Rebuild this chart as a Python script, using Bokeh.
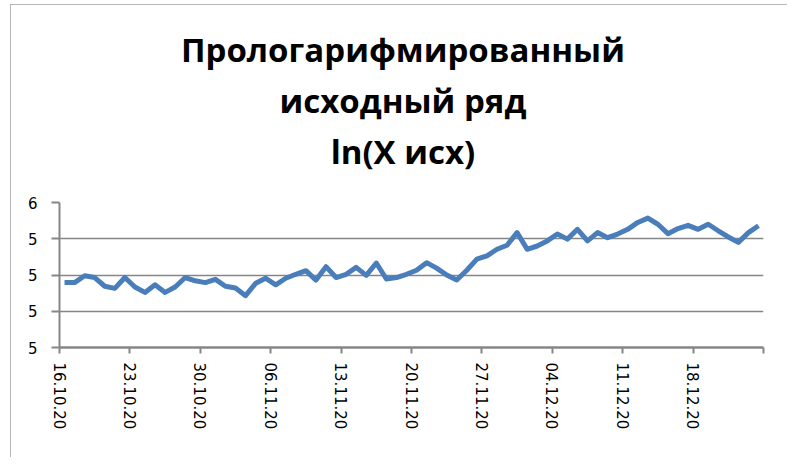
import pandas as pd
from bokeh.plotting import figure
from bokeh.models import FixedTicker, NumeralTickFormatter, Range1d, Title
from bokeh.embed import file_html
from bokeh.resources import INLINE

# ---- data ----
start_date = "2020-10-16"
end_date = "2020-12-24"
values = [5.279, 5.279, 5.298, 5.293, 5.269, 5.263, 5.293, 5.267, 5.252, 5.273,
          5.252, 5.267, 5.293, 5.284, 5.279, 5.288, 5.269, 5.264, 5.243, 5.277,
          5.291, 5.273, 5.291, 5.302, 5.312, 5.286, 5.323, 5.293, 5.302, 5.321,
          5.299, 5.333, 5.289, 5.293, 5.302, 5.313, 5.334, 5.319, 5.300, 5.286,
          5.313, 5.344, 5.353, 5.371, 5.382, 5.417, 5.371, 5.380, 5.394, 5.413,
          5.399, 5.426, 5.394, 5.417, 5.403, 5.413, 5.426, 5.445, 5.457, 5.440,
          5.414, 5.428, 5.437, 5.426, 5.440, 5.422, 5.405, 5.390, 5.417, 5.436]
tick_labels = ["16.10.20", "23.10.20", "30.10.20", "06.11.20", "13.11.20",
               "20.11.20", "27.11.20", "04.12.20", "11.12.20", "18.12.20", ""]
y_ticks = [5.1, 5.2, 5.3, 5.4, 5.5]
title_lines = ["Прологарифмированный", "исходный ряд", "ln(X исх)"]

dates = pd.date_range(start_date, end_date, freq="D")
t0 = dates[0]
x = [(d - t0).days for d in dates]
n_days = len(dates)

GRAY = "#868686"
BLUE = "#4a7ebb"

p = figure(width=777, height=453, output_backend="svg", toolbar_location=None,
           x_range=Range1d(-0.5, n_days - 0.5), y_range=Range1d(y_ticks[0], y_ticks[-1]),
           min_border_left=49, min_border_right=24, min_border_bottom=110,
           min_border_top=198, background_fill_color="white", border_fill_color="white",
           outline_line_color=None, margin=(4, 0, 0, 10))
p.styles = {"outline": "2px solid #a0a0a0", "outline-offset": "-2px"}
p.title.visible = False

# spacer between the plot and the title block (first added sits closest to the plot)
p.add_layout(Title(text="\u00a0", text_font_size="1px", standoff=24), "above")
for line in reversed(title_lines):
    p.add_layout(Title(text=line + "\u00a0\u00a0", align="center", text_font="Open Sans",
                       text_font_style="bold", text_font_size="33px", text_color="black",
                       standoff=4), "above")

p.line(x, values, line_color=BLUE, line_width=5, line_join="round")

# y axis
p.yaxis.ticker = FixedTicker(ticks=y_ticks)
p.yaxis.formatter = NumeralTickFormatter(format="0")
p.yaxis.axis_line_color = GRAY
p.yaxis.axis_line_width = 2
p.yaxis.major_tick_line_color = GRAY
p.yaxis.major_tick_line_width = 2
p.yaxis.major_tick_out = 8
p.yaxis.major_tick_in = 0
p.yaxis.minor_tick_line_color = None
p.yaxis.major_label_standoff = 14
p.yaxis.major_label_text_font = "DejaVu Sans"
p.yaxis.major_label_text_font_size = "15px"
p.yaxis.major_label_text_color = "black"

# x axis
xt = [k * 7 - 0.5 for k in range(len(tick_labels))]
p.xaxis.ticker = FixedTicker(ticks=xt)
p.xaxis.major_label_overrides = {t: lab for t, lab in zip(xt, tick_labels)}
p.xaxis.major_label_orientation = "vertical"
p.xaxis.axis_line_color = GRAY
p.xaxis.axis_line_width = 2.5
p.xaxis.major_tick_line_color = GRAY
p.xaxis.major_tick_line_width = 2
p.xaxis.major_tick_out = 6
p.xaxis.major_tick_in = 0
p.xaxis.minor_tick_line_color = None
p.xaxis.major_label_standoff = 9
p.xaxis.major_label_text_font = "DejaVu Sans"
p.xaxis.major_label_text_font_size = "15px"
p.xaxis.major_label_text_color = "black"

p.xgrid.grid_line_color = None
p.ygrid.ticker = FixedTicker(ticks=y_ticks)
p.ygrid.grid_line_color = GRAY
p.ygrid.grid_line_width = 1.5

open("out.html", "w").write(file_html(p, INLINE))
